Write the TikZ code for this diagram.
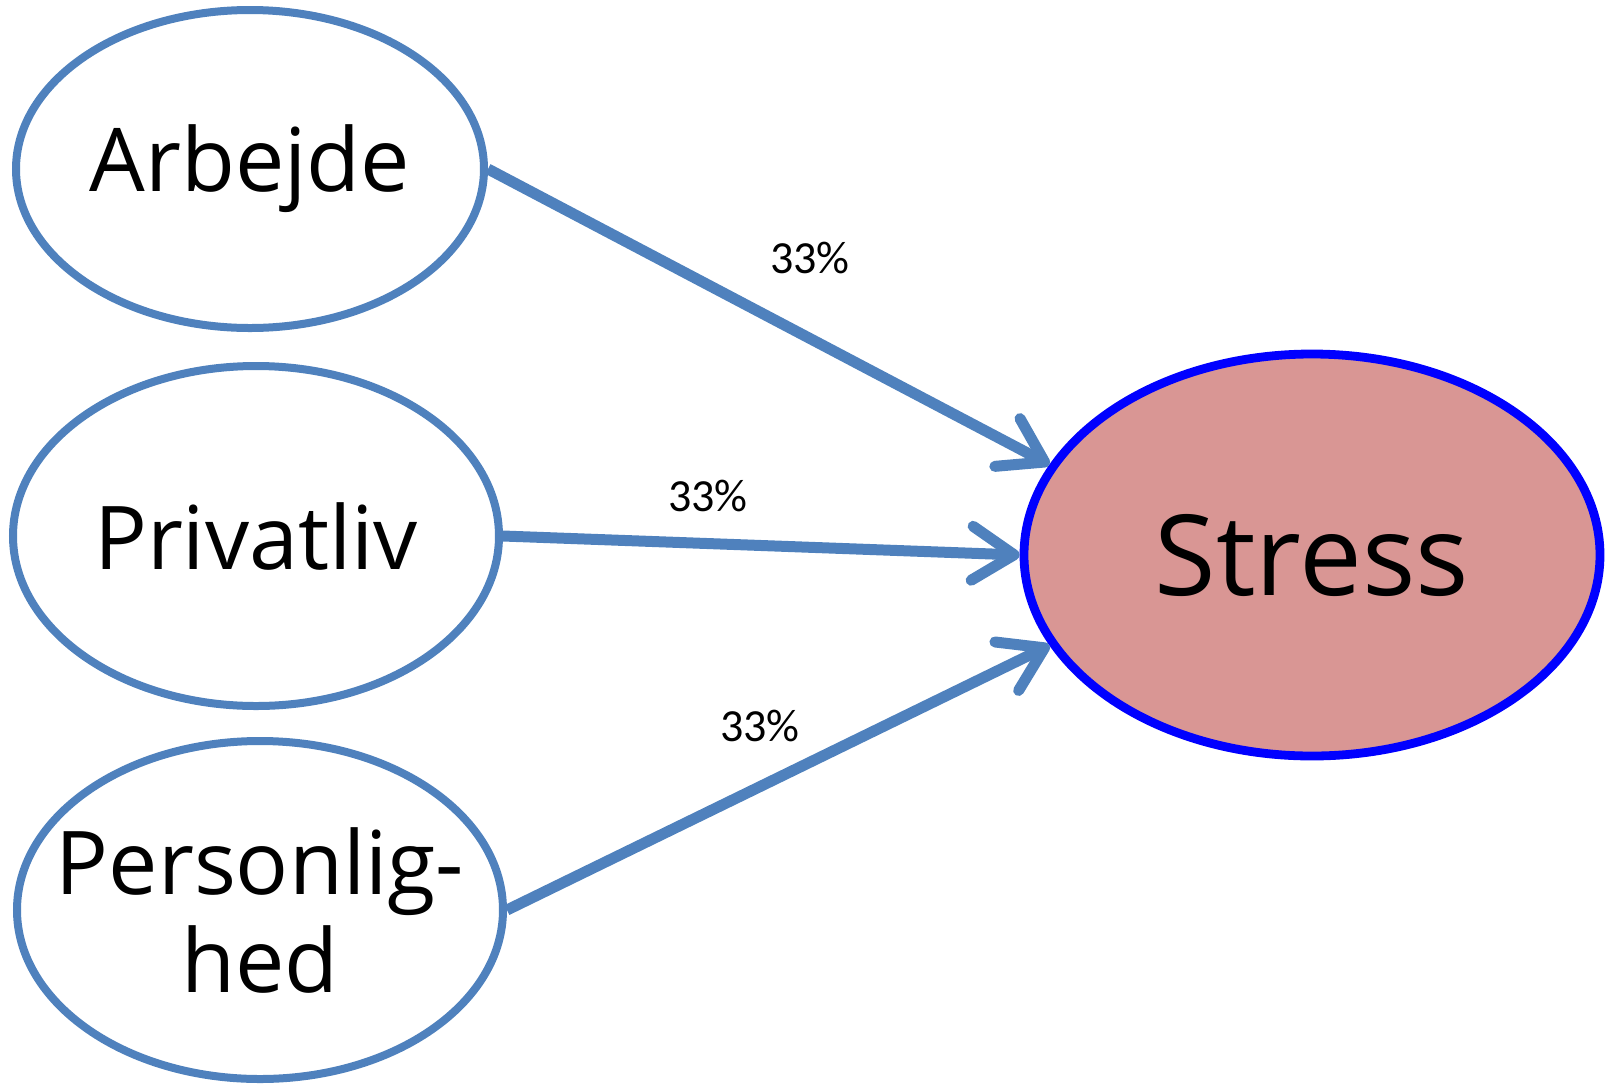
\documentclass[tikz,border=0pt]{standalone}
\usepackage{fontspec}
\setmainfont{Open Sans}
\newfontfamily\sharefont{Carlito}
\usetikzlibrary{arrows.meta,shapes.geometric}

\definecolor{factorblue}{RGB}{79,129,189}
\definecolor{stressfill}{RGB}{217,150,148}

\begin{document}
\begin{tikzpicture}[x=0.5pt,y=-0.5pt,
        factor/.style={ellipse,draw=factorblue,line width=4pt,fill=white,inner sep=-40pt,
            align=center,font=\fontsize{44}{49}\selectfont},
        effect/.style={ellipse,draw=blue,line width=4.4pt,fill=stressfill,inner sep=-40pt,
            font=\fontsize{56}{62}\selectfont},
        weight/.style={-{Straight Barb[length=21pt,width=27pt,round]},draw=factorblue,line width=5.5pt},
        share/.style={font=\sharefont\fontsize{23}{26}\selectfont}]
        \useasboundingbox (0,0) rectangle (1608,1083);

        % Factors
        \node[factor,minimum width=234pt,minimum height=159pt] (arb) at (250,169) {Arbejde};
        \node[factor,minimum width=243pt,minimum height=170pt] (priv) at (256,536) {Privatliv};
        \node[factor,minimum width=243pt,minimum height=169pt] (pers) at (260,910) {Personlig-\\hed};

        % Effect
        \node[effect,minimum width=288pt,minimum height=201pt] (stress) at (1312,555) {Stress};

        % Arcs
        \draw[weight] (arb.east) -- (stress.161);
        \draw[weight] (priv.east) -- (stress.west);
        \draw[weight] (pers.east) -- (stress.199);

        % Shares
        \node[share] (s1) at (810,258) {33\%};
        \node[share] (s2) at (708,496) {33\%};
        \node[share] (s3) at (760,726) {33\%};
    \end{tikzpicture}
\end{document}
